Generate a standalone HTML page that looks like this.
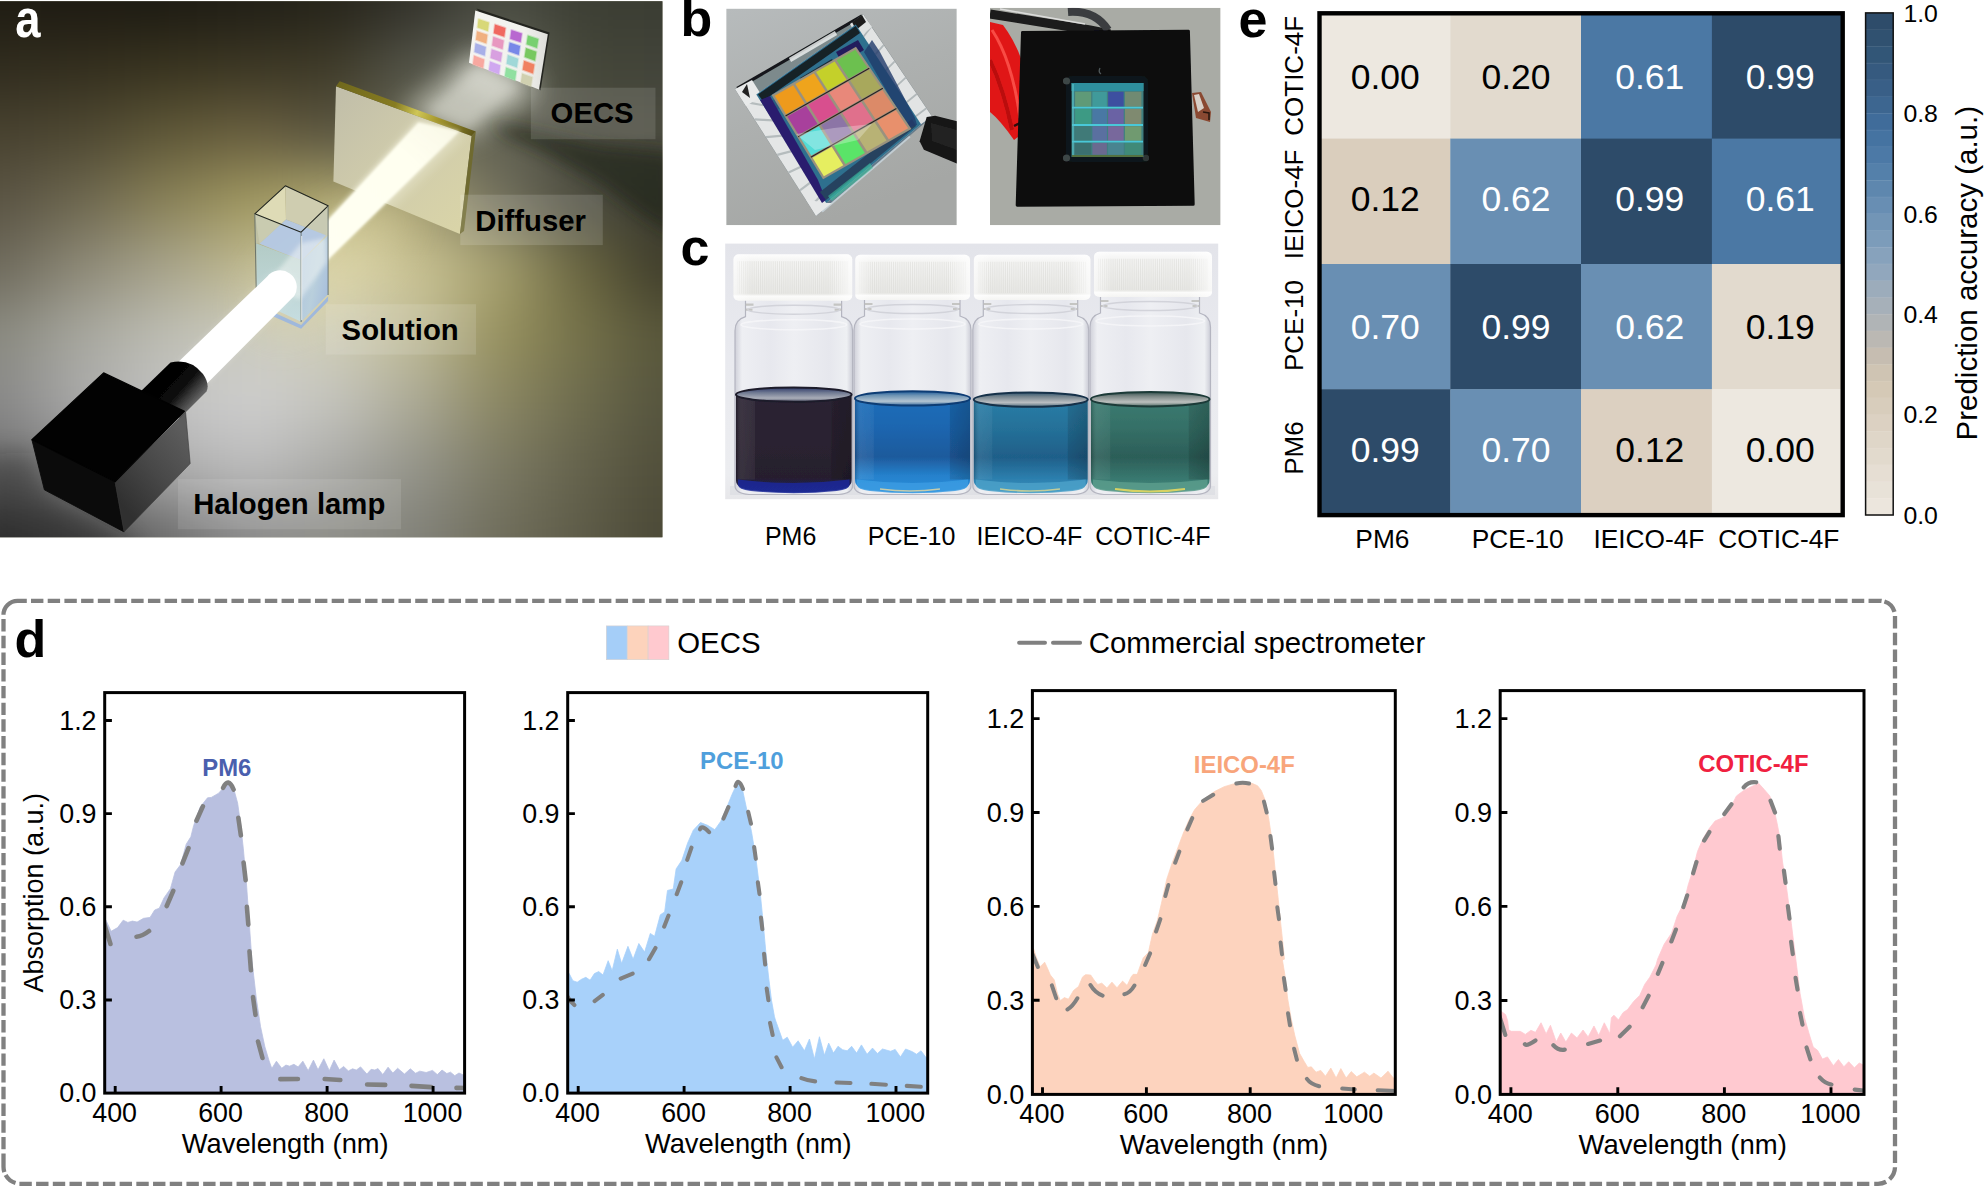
<!DOCTYPE html>
<html lang="en"><head><meta charset="utf-8"><title>Figure</title>
<style>html,body{margin:0;padding:0;background:#fff}svg{display:block}text{font-family:"Liberation Sans", Arial, Helvetica, sans-serif}</style>
</head><body>
<svg width="1984" height="1186" viewBox="0 0 1984 1186">
<rect width="1984" height="1186" fill="#fff"/>
<g id="panel-a">
<defs><clipPath id="clipa"><rect x="0" y="1.3" width="662.4" height="535.9"/></clipPath><filter id="abg" x="-20%" y="-20%" width="140%" height="140%" color-interpolation-filters="sRGB"><feGaussianBlur stdDeviation="34 28"/></filter><filter id="bl2" x="-30%" y="-30%" width="160%" height="160%"><feGaussianBlur stdDeviation="2"/></filter><filter id="bl1" x="-30%" y="-30%" width="160%" height="160%"><feGaussianBlur stdDeviation="1.1"/></filter><filter id="bl05" x="-10%" y="-10%" width="120%" height="120%"><feGaussianBlur stdDeviation="0.6"/></filter><filter id="bl3" x="-30%" y="-30%" width="160%" height="160%"><feGaussianBlur stdDeviation="3.2"/></filter><filter id="bl6" x="-40%" y="-40%" width="180%" height="180%"><feGaussianBlur stdDeviation="6"/></filter><filter id="bl8" x="-40%" y="-40%" width="180%" height="180%"><feGaussianBlur stdDeviation="8"/></filter><filter id="bl12" x="-50%" y="-50%" width="200%" height="200%"><feGaussianBlur stdDeviation="12"/></filter><filter id="bl20" x="-60%" y="-60%" width="220%" height="220%"><feGaussianBlur stdDeviation="20"/></filter></defs>
<g clip-path="url(#clipa)">
<rect x="-10" y="-10" width="690" height="560" fill="#6a6850"/>
<g filter="url(#abg)">
<rect x="-140" y="-120" width="182.5" height="154.5" fill="#1E1B12"/>
<rect x="41.5" y="-120" width="84" height="154.5" fill="#1D1A12"/>
<rect x="124.5" y="-120" width="84" height="154.5" fill="#1C1A12"/>
<rect x="207.5" y="-120" width="84" height="154.5" fill="#201E16"/>
<rect x="290.5" y="-120" width="84" height="154.5" fill="#26241A"/>
<rect x="373.5" y="-120" width="84" height="154.5" fill="#32312A"/>
<rect x="456.5" y="-120" width="84" height="154.5" fill="#4A4C42"/>
<rect x="539.5" y="-120" width="83" height="154.5" fill="#3C3E34"/>
<rect x="621.5" y="-120" width="179.5" height="154.5" fill="#3A3C32"/>
<rect x="-140" y="33.5" width="182.5" height="68" fill="#302C1E"/>
<rect x="41.5" y="33.5" width="84" height="68" fill="#332E1E"/>
<rect x="124.5" y="33.5" width="84" height="68" fill="#38331F"/>
<rect x="207.5" y="33.5" width="84" height="68" fill="#3C3724"/>
<rect x="290.5" y="33.5" width="84" height="68" fill="#3E3A28"/>
<rect x="373.5" y="33.5" width="84" height="68" fill="#54554A"/>
<rect x="456.5" y="33.5" width="84" height="68" fill="#6A6C60"/>
<rect x="539.5" y="33.5" width="83" height="68" fill="#444638"/>
<rect x="621.5" y="33.5" width="179.5" height="68" fill="#42443A"/>
<rect x="-140" y="100.5" width="182.5" height="68" fill="#484230"/>
<rect x="41.5" y="100.5" width="84" height="68" fill="#4E4832"/>
<rect x="124.5" y="100.5" width="84" height="68" fill="#5F5838"/>
<rect x="207.5" y="100.5" width="84" height="68" fill="#6A6040"/>
<rect x="290.5" y="100.5" width="84" height="68" fill="#5A5540"/>
<rect x="373.5" y="100.5" width="84" height="68" fill="#6A6A58"/>
<rect x="456.5" y="100.5" width="84" height="68" fill="#626252"/>
<rect x="539.5" y="100.5" width="83" height="68" fill="#4e4e42"/>
<rect x="621.5" y="100.5" width="179.5" height="68" fill="#4c4c40"/>
<rect x="-140" y="167.5" width="182.5" height="68" fill="#5A5444"/>
<rect x="41.5" y="167.5" width="84" height="68" fill="#6E6850"/>
<rect x="124.5" y="167.5" width="84" height="68" fill="#8A8258"/>
<rect x="207.5" y="167.5" width="84" height="68" fill="#A09860"/>
<rect x="290.5" y="167.5" width="84" height="68" fill="#B0A870"/>
<rect x="373.5" y="167.5" width="84" height="68" fill="#A8A070"/>
<rect x="456.5" y="167.5" width="84" height="68" fill="#747260"/>
<rect x="539.5" y="167.5" width="83" height="68" fill="#4a4a3e"/>
<rect x="621.5" y="167.5" width="179.5" height="68" fill="#3c3c32"/>
<rect x="-140" y="234.5" width="182.5" height="68" fill="#6E6A5C"/>
<rect x="41.5" y="234.5" width="84" height="68" fill="#8E8A78"/>
<rect x="124.5" y="234.5" width="84" height="68" fill="#A8A48C"/>
<rect x="207.5" y="234.5" width="84" height="68" fill="#C0BA90"/>
<rect x="290.5" y="234.5" width="84" height="68" fill="#D8D2A8"/>
<rect x="373.5" y="234.5" width="84" height="68" fill="#CCC596"/>
<rect x="456.5" y="234.5" width="84" height="68" fill="#A8A270"/>
<rect x="539.5" y="234.5" width="83" height="68" fill="#6A6640"/>
<rect x="621.5" y="234.5" width="179.5" height="68" fill="#3E3C2A"/>
<rect x="-140" y="301.5" width="182.5" height="68" fill="#8A8A80"/>
<rect x="41.5" y="301.5" width="84" height="68" fill="#A8A8A0"/>
<rect x="124.5" y="301.5" width="84" height="68" fill="#BEBEB4"/>
<rect x="207.5" y="301.5" width="84" height="68" fill="#CCCCC0"/>
<rect x="290.5" y="301.5" width="84" height="68" fill="#D0CEB8"/>
<rect x="373.5" y="301.5" width="84" height="68" fill="#C0BC98"/>
<rect x="456.5" y="301.5" width="84" height="68" fill="#98925F"/>
<rect x="539.5" y="301.5" width="83" height="68" fill="#75724A"/>
<rect x="621.5" y="301.5" width="179.5" height="68" fill="#58563A"/>
<rect x="-140" y="368.5" width="182.5" height="68" fill="#888888"/>
<rect x="41.5" y="368.5" width="84" height="68" fill="#ABABAB"/>
<rect x="124.5" y="368.5" width="84" height="68" fill="#C2C2C2"/>
<rect x="207.5" y="368.5" width="84" height="68" fill="#CECECE"/>
<rect x="290.5" y="368.5" width="84" height="68" fill="#C4C4BE"/>
<rect x="373.5" y="368.5" width="84" height="68" fill="#ACAA96"/>
<rect x="456.5" y="368.5" width="84" height="68" fill="#8C8864"/>
<rect x="539.5" y="368.5" width="83" height="68" fill="#6E6C4E"/>
<rect x="621.5" y="368.5" width="179.5" height="68" fill="#55543E"/>
<rect x="-140" y="435.5" width="182.5" height="68.5" fill="#6c6c6c"/>
<rect x="41.5" y="435.5" width="84" height="68.5" fill="#8a8a8a"/>
<rect x="124.5" y="435.5" width="84" height="68.5" fill="#ACACAC"/>
<rect x="207.5" y="435.5" width="84" height="68.5" fill="#BDBDBD"/>
<rect x="290.5" y="435.5" width="84" height="68.5" fill="#ABABA8"/>
<rect x="373.5" y="435.5" width="84" height="68.5" fill="#94948A"/>
<rect x="456.5" y="435.5" width="84" height="68.5" fill="#7C7A64"/>
<rect x="539.5" y="435.5" width="83" height="68.5" fill="#64624C"/>
<rect x="621.5" y="435.5" width="179.5" height="68.5" fill="#504E3A"/>
<rect x="-140" y="503" width="182.5" height="158" fill="#3a3a3a"/>
<rect x="41.5" y="503" width="84" height="158" fill="#4a4a4a"/>
<rect x="124.5" y="503" width="84" height="158" fill="#6c6c6c"/>
<rect x="207.5" y="503" width="84" height="158" fill="#8a8a8a"/>
<rect x="290.5" y="503" width="84" height="158" fill="#8E8E88"/>
<rect x="373.5" y="503" width="84" height="158" fill="#82827A"/>
<rect x="456.5" y="503" width="84" height="158" fill="#706E5C"/>
<rect x="539.5" y="503" width="83" height="158" fill="#5E5C48"/>
<rect x="621.5" y="503" width="179.5" height="158" fill="#4A4836"/>
</g>
<polygon points="-20,455 34,452 48,494 124,536 150,570 -20,570" fill="#101010" opacity="0.3" filter="url(#bl12)"/>
<polygon points="486,120 520,127 600,145 675,152 675,236 640,214 600,184 545,153 505,135" fill="#1e2016" opacity="0.6" filter="url(#bl8)"/>
<polygon points="400,112 468,140 543,92 470,54" fill="#e6e8dc" opacity="0.52" filter="url(#bl12)"/>
<polygon points="455,85 500,100 540,80 480,50" fill="#f4f4ec" opacity="0.36" filter="url(#bl12)"/>
<polygon points="425,112 468,130 520,86 478,64" fill="#f2f2ea" opacity="0.35" filter="url(#bl6)"/>
<ellipse cx="330" cy="262" rx="95" ry="38" fill="#e6dfb0" opacity="0.35" filter="url(#bl20)" transform="rotate(-40 330 262)"/>
<linearGradient id="plate" gradientUnits="userSpaceOnUse" x1="336" y1="100" x2="462" y2="225"><stop offset="0" stop-color="#c2bfa9"/><stop offset="0.45" stop-color="#cfcbab"/><stop offset="1" stop-color="#d9d4a8"/></linearGradient>
<polygon points="336,86.3 471.6,135.9 459.9,234 333.4,181.4" fill="url(#plate)"/>
<linearGradient id="ptop" gradientUnits="userSpaceOnUse" x1="338" y1="84" x2="474" y2="134"><stop offset="0" stop-color="#70681c"/><stop offset="0.42" stop-color="#877c22"/><stop offset="0.58" stop-color="#cfc656"/><stop offset="0.72" stop-color="#a89a30"/><stop offset="1" stop-color="#5e5618"/></linearGradient>
<polygon points="336,86.3 339.7,81.2 475.8,131.6 471.6,135.9" fill="url(#ptop)"/>
<polygon points="471.6,135.9 475.8,131.6 464,231 459.9,234" fill="#6f6a30"/>
<clipPath id="clipplate"><polygon points="336,86.3 471.6,135.9 459.9,234 333.4,181.4"/></clipPath>
<g clip-path="url(#clipplate)"><polygon points="356,192 420,118 466,134 366,232" fill="#fffef0" opacity="0.3" filter="url(#bl6)"/></g>
<polygon points="326,219 417.4,120.7 461,130.6 326,262" fill="#fffff0" opacity="0.4" filter="url(#bl2)"/>
<linearGradient id="beam2" gradientUnits="userSpaceOnUse" x1="330" y1="240" x2="445" y2="128"><stop offset="0" stop-color="#fffff2"/><stop offset="0.7" stop-color="#fffff0"/><stop offset="1" stop-color="#fffff0" stop-opacity="0.75"/></linearGradient>
<polygon points="327,221 418.5,122.5 459,131.5 327,260.5" fill="url(#beam2)" filter="url(#bl1)"/>
<polygon points="262,307 301.1,324.9 328.1,296.4 328.1,300.9 301.1,328.7 262,311.5" fill="#9fb8dc"/>
<polygon points="254.8,213.8 285.3,185.8 286,219.5 259.6,243.8" fill="#dedbb6"/>
<polygon points="285.3,185.8 328.1,205.8 326,235.3 286,219.5" fill="#cfcdb0"/>
<polygon points="254.8,213.8 301.1,232.2 301.8,260.6 259.6,243.8 255.3,243" fill="#c3c7ae" opacity="0.78"/>
<polygon points="301.1,232.2 328.1,205.8 328.1,236 301.8,260.6" fill="#c6c9b4" opacity="0.8"/>
<polygon points="286,219.5 326,235.3 301.8,260.6 259.6,243.8" fill="#b4c9e6" opacity="0.92"/>
<linearGradient id="liqL" x1="0" x2="0" y1="0" y2="1"><stop offset="0" stop-color="#b3cbc6"/><stop offset="1" stop-color="#c6dde0"/></linearGradient>
<polygon points="256.2,243.2 301.8,260.6 301.1,321.7 256.6,301" fill="url(#liqL)"/>
<linearGradient id="liqR" x1="0" x2="1" y1="0" y2="0.6"><stop offset="0" stop-color="#aec4df"/><stop offset="0.6" stop-color="#b9cfdc"/><stop offset="1" stop-color="#a9c0dc"/></linearGradient>
<polygon points="301.8,260.6 328.1,235.6 328.1,294.3 301.1,321.7" fill="url(#liqR)"/>
<polygon points="268,282 301,243 326,238 327,262 300,300" fill="#f4f8f6" opacity="0.5" filter="url(#bl2)"/>
<polygon points="285.3,185.8 328.1,205.8 301.1,232.2 254.8,213.8" fill="none" stroke="#20241e" stroke-width="1.1" stroke-linejoin="round"/>
<path d="M254.8,213.8L256.4,300M301.1,232.2L301.1,322M328.1,205.8L328.1,295" stroke="#5f6a66" stroke-width="1" fill="none" opacity="0.85"/>
<path d="M301.6,236L301.6,320" stroke="#eef3f2" stroke-width="1.3" opacity="0.7"/>
<path d="M177.5,362.8L267,276.7A16.7,16.7 0 0 1 294.2,296L207,383.5Z" fill="#ffffff" opacity="0.18" filter="url(#bl3)"/>
<path d="M177.5,362.8L267,276.7A16.7,16.7 0 0 1 294.2,296L207,383.5Z" fill="#ffffff" filter="url(#bl05)"/>
<linearGradient id="barrel" gradientUnits="userSpaceOnUse" x1="160" y1="372" x2="196" y2="404"><stop offset="0" stop-color="#000"/><stop offset="0.55" stop-color="#0a0a0a"/><stop offset="0.85" stop-color="#4a4a4a"/><stop offset="1" stop-color="#6a6a6a"/></linearGradient>
<path d="M137,395L170.5,362.6Q190,358 203,374Q210,384 206.5,391.5L180,418Z" fill="url(#barrel)" filter="url(#bl05)"/>
<polygon points="31.9,439.7 115,481.8 124.1,531.9 44.4,489.8" fill="#0b0b0b" stroke="#0b0b0b" stroke-width="0.9" stroke-linejoin="round"/>
<linearGradient id="lampR" gradientUnits="userSpaceOnUse" x1="118" y1="500" x2="190" y2="440"><stop offset="0" stop-color="#303030"/><stop offset="0.5" stop-color="#484848"/><stop offset="1" stop-color="#5c5c5c"/></linearGradient>
<polygon points="115,481.8 185.6,412.3 190.2,463.6 124.1,531.9" fill="url(#lampR)" stroke="#3a3a3a" stroke-width="0.6" stroke-linejoin="round"/>
<polygon points="103.6,372.9 184.5,411.2 115,481.8 31.9,439.7" fill="#020202" stroke="#020202" stroke-width="1.2" stroke-linejoin="round"/>
<polygon points="476.5,8.6 549.6,32.6 540.5,90.6 538,88" fill="#23241f"/>
<linearGradient id="chip" x1="0" x2="1" y1="0" y2="0"><stop offset="0" stop-color="#f5f5f1"/><stop offset="0.7" stop-color="#f1f1ed"/><stop offset="1" stop-color="#dededa"/></linearGradient>
<polygon points="475.3,10.5 547.8,34.2 539,89.4 469,62.8" fill="url(#chip)" filter="url(#bl05)"/>
<g filter="url(#bl05)">
<polygon points="478.49,18.91 489.03,22.43 487.9,31.15 477.43,27.57" fill="#D8D878" stroke="#D8D878" stroke-opacity="0.35" stroke-width="2" stroke-linejoin="round"/>
<polygon points="494.94,24.4 505.48,27.92 504.26,36.76 493.79,33.17" fill="#F06860" stroke="#F06860" stroke-opacity="0.35" stroke-width="2" stroke-linejoin="round"/>
<polygon points="511.4,29.9 521.93,33.41 520.62,42.36 510.15,38.77" fill="#B868D0" stroke="#B868D0" stroke-opacity="0.35" stroke-width="2" stroke-linejoin="round"/>
<polygon points="527.85,35.39 538.39,38.91 536.98,47.96 526.5,44.37" fill="#78D070" stroke="#78D070" stroke-opacity="0.35" stroke-width="2" stroke-linejoin="round"/>
<polygon points="476.99,31.13 487.44,34.75 486.32,43.48 475.93,39.79" fill="#F0B080" stroke="#F0B080" stroke-opacity="0.35" stroke-width="2" stroke-linejoin="round"/>
<polygon points="493.31,36.78 503.76,40.4 502.54,49.23 492.15,45.55" fill="#E898C0" stroke="#E898C0" stroke-opacity="0.35" stroke-width="2" stroke-linejoin="round"/>
<polygon points="509.63,42.43 520.08,46.04 518.77,54.99 508.38,51.3" fill="#7888E8" stroke="#7888E8" stroke-opacity="0.35" stroke-width="2" stroke-linejoin="round"/>
<polygon points="525.95,48.07 536.4,51.69 535,60.74 524.61,57.06" fill="#78C860" stroke="#78C860" stroke-opacity="0.35" stroke-width="2" stroke-linejoin="round"/>
<polygon points="475.49,43.36 485.86,47.07 484.73,55.8 474.43,52.01" fill="#A8B0E8" stroke="#A8B0E8" stroke-opacity="0.35" stroke-width="2" stroke-linejoin="round"/>
<polygon points="491.68,49.16 502.04,52.87 500.83,61.71 490.52,57.92" fill="#D8A0E0" stroke="#D8A0E0" stroke-opacity="0.35" stroke-width="2" stroke-linejoin="round"/>
<polygon points="507.86,54.96 518.23,58.67 516.92,67.62 506.61,63.83" fill="#A0D8D8" stroke="#A0D8D8" stroke-opacity="0.35" stroke-width="2" stroke-linejoin="round"/>
<polygon points="524.05,60.76 534.42,64.47 533.01,73.53 522.71,69.74" fill="#F08060" stroke="#F08060" stroke-opacity="0.35" stroke-width="2" stroke-linejoin="round"/>
<polygon points="473.99,55.58 484.27,59.39 483.15,68.12 472.93,64.24" fill="#F8A8A0" stroke="#F8A8A0" stroke-opacity="0.35" stroke-width="2" stroke-linejoin="round"/>
<polygon points="490.04,61.54 500.32,65.35 499.11,74.18 488.89,70.3" fill="#D0A8F0" stroke="#D0A8F0" stroke-opacity="0.35" stroke-width="2" stroke-linejoin="round"/>
<polygon points="506.1,67.49 516.38,71.3 515.07,80.25 504.85,76.37" fill="#90E0A0" stroke="#90E0A0" stroke-opacity="0.35" stroke-width="2" stroke-linejoin="round"/>
<polygon points="522.15,73.45 532.43,77.26 531.03,86.31 520.81,82.43" fill="#D0D0B0" stroke="#D0D0B0" stroke-opacity="0.35" stroke-width="2" stroke-linejoin="round"/>
</g>
<rect x="530.9" y="87.7" width="124.6" height="51.5" fill="#fff" opacity="0.12"/>
<text x="550.6" y="123.4" font-size="29.3" font-weight="bold" fill="#000">OECS</text>
<rect x="460.3" y="194.7" width="142.5" height="50.4" fill="#fff" opacity="0.14"/>
<text x="475.3" y="230.6" font-size="29.3" font-weight="bold" fill="#000">Diffuser</text>
<rect x="325.7" y="304.2" width="150.3" height="50.4" fill="#fff" opacity="0.12"/>
<text x="341.6" y="339.6" font-size="29.3" font-weight="bold" fill="#000">Solution</text>
<rect x="177.9" y="479.1" width="223.1" height="50.2" fill="#fff" opacity="0.1"/>
<text x="193.2" y="513.8" font-size="29.3" font-weight="bold" fill="#000">Halogen lamp</text>
<text transform="translate(15.2,36.6) scale(0.875,1.04)" font-size="52" font-weight="bold" fill="#fff">a</text>
</g>
</g>
<g id="panel-b">
<text x="680.6" y="36.4" font-size="52" font-weight="bold" fill="#000">b</text>
<defs><filter id="softb" x="-2%" y="-2%" width="104%" height="104%"><feGaussianBlur stdDeviation="0.7"/></filter><clipPath id="clipb1"><rect x="726.2" y="8.6" width="230.6" height="216.6"/></clipPath><clipPath id="clipb2"><rect x="990" y="7.8" width="230.6" height="217.4"/></clipPath></defs>
<g clip-path="url(#clipb1)"><g filter="url(#softb)"><linearGradient id="b1bg" x1="0" x2="0.4" y1="0" y2="1"><stop offset="0" stop-color="#b7bbbc"/><stop offset="0.5" stop-color="#adb0af"/><stop offset="1" stop-color="#a5a7a5"/></linearGradient>
<rect x="726.2" y="8.6" width="230.6" height="216.6" fill="url(#b1bg)"/>
<linearGradient id="glassb" x1="0" x2="1" y1="0" y2="1"><stop offset="0" stop-color="#8f9a9c"/><stop offset="0.5" stop-color="#d8dcdd"/><stop offset="1" stop-color="#eceeee"/></linearGradient>
<polygon points="863,14.4 931.9,116.5 816.1,215.7 735.2,88.9" fill="#cfd3d4" stroke="#8c9496" stroke-width="1"/>
<polygon points="735.2,88.9 816.1,215.7 826.2,202.9 756.3,94.4" fill="#e4e6e6"/>
<path d="M743.29,101.58L763.29,105.25" stroke="#aab2b4" stroke-width="2.2" opacity="0.8"/>
<path d="M754.62,119.33L773.08,120.44" stroke="#aab2b4" stroke-width="2.2" opacity="0.8"/>
<path d="M765.94,137.08L782.86,135.63" stroke="#aab2b4" stroke-width="2.2" opacity="0.8"/>
<path d="M777.27,154.84L792.65,150.82" stroke="#aab2b4" stroke-width="2.2" opacity="0.8"/>
<path d="M788.59,172.59L802.43,166.01" stroke="#aab2b4" stroke-width="2.2" opacity="0.8"/>
<path d="M799.92,190.34L812.22,181.2" stroke="#aab2b4" stroke-width="2.2" opacity="0.8"/>
<path d="M810.44,206.82L821.31,195.31" stroke="#aab2b4" stroke-width="2.2" opacity="0.8"/>
<polygon points="863,14.4 931.9,116.5 921,124.2 855.8,24.5" fill="#e2e4e4"/>
<path d="M871.27,26.65L863.62,36.46" stroke="#a9b1b3" stroke-width="1.8" opacity="0.85"/>
<path d="M883.67,45.03L875.36,54.41" stroke="#a9b1b3" stroke-width="1.8" opacity="0.85"/>
<path d="M894.69,61.37L885.79,70.36" stroke="#a9b1b3" stroke-width="1.8" opacity="0.85"/>
<path d="M905.72,77.7L896.22,86.31" stroke="#a9b1b3" stroke-width="1.8" opacity="0.85"/>
<path d="M916.74,94.04L906.66,102.27" stroke="#a9b1b3" stroke-width="1.8" opacity="0.85"/>
<path d="M926.39,108.33L915.78,116.22" stroke="#a9b1b3" stroke-width="1.8" opacity="0.85"/>
<polygon points="735.2,88.9 863,14.4 855.8,24.5 756.3,94.4" fill="#7d8a8c"/>
<path d="M737.2,88.4L862,15.9" stroke="#15181a" stroke-width="3.2"/>
<path d="M790,60L836,33" stroke="#e9ecec" stroke-width="4.5" opacity="0.85"/>
<polygon points="931.9,116.5 816.1,215.7 826.2,202.9 921,124.2" fill="#62798a"/>
<path d="M822.1,211.7L909.9,136.5" stroke="#c9d6de" stroke-width="1.8" opacity="0.8"/>
<polygon points="816.1,215.7 806,199.5 826.2,202.9 832,203" fill="#e6e8e8"/>
<polygon points="735.2,88.9 752,80 762,96 746,106" fill="#e8eaea"/><polygon points="742,92 747,84 750,98" fill="#222"/>
<polygon points="863,14.4 872,27 858,38 850,24" fill="#dfe2e2"/><polygon points="852,22 862,15 866,22 856,30" fill="#1b1d1f"/>
<polygon points="855.8,24.5 921,124.2 826.2,202.9 756.3,94.4" fill="#2f6f8e"/>
<polygon points="758,94.4 855.8,26 860,33 763,101" fill="#152028"/>
<polygon points="766,104 790,90 796,99 772,113" fill="#2a5f80"/><polygon points="800,78 832,59 836,66 804,85" fill="#1a2a3a"/><polygon points="836,52 858,40 864,50 842,63" fill="#241c5c"/>
<polygon points="760,100 770,96 818,180 826,200 822,203" fill="#2a1f6e"/>
<polygon points="826,200 916,126 912,119 820,192" fill="#27435f"/>
<polygon points="828,196 870,163 873,168 832,201" fill="#3ec8a0" opacity="0.55"/>
<polygon points="872,40 880,52 915,118 917,125 908,128 864,52" fill="#1f3a6a" opacity="0.8"/>
<polygon points="771.57,94.95 855.98,46.72 911.41,128.91 823.04,179.32" fill="#9a927e"/>
<polygon points="774.63,95.76 793.19,85.16 804.71,103.57 785.96,114.28" fill="#EE9A1E"/>
<polygon points="795.35,83.93 813.9,73.33 825.63,91.62 806.88,102.33" fill="#EFA41C"/>
<polygon points="816.06,72.1 834.62,61.49 846.56,79.67 827.81,90.38" fill="#C4D02A"/>
<polygon points="836.77,60.26 855.33,49.66 867.48,67.72 848.73,78.43" fill="#6CC050"/>
<polygon points="787.27,116.43 806.04,105.71 817.56,124.12 798.59,134.95" fill="#A8409C"/>
<polygon points="808.22,104.46 826.99,93.75 838.72,112.04 819.76,122.87" fill="#D8508E"/>
<polygon points="829.17,92.5 847.94,81.78 859.88,99.96 840.92,110.79" fill="#E8887A"/>
<polygon points="850.12,80.54 868.89,69.82 881.04,87.88 862.08,98.7" fill="#A8A85C"/>
<polygon points="799.91,137.1 818.89,126.26 830.41,144.67 811.23,155.61" fill="#52DCD6"/>
<polygon points="821.1,125 840.08,114.17 851.81,132.46 832.63,143.4" fill="#8C74A6"/>
<polygon points="842.28,112.91 861.27,102.07 873.21,120.25 854.03,131.19" fill="#E0708C"/>
<polygon points="863.47,100.81 882.45,89.98 894.61,108.04 875.43,118.98" fill="#DC8A68"/>
<polygon points="812.55,157.76 831.74,146.81 843.26,165.22 823.87,176.28" fill="#E6EE60"/>
<polygon points="833.97,145.54 853.17,134.58 864.89,152.88 845.51,163.94" fill="#5AE468"/>
<polygon points="855.4,133.31 874.59,122.36 886.53,140.54 867.14,151.6" fill="#B8B274"/>
<polygon points="876.82,121.09 896.02,110.13 908.17,128.19 888.78,139.25" fill="#E8906C"/>
<path d="M785.52,115.97L869.28,68.15" stroke="#2a2220" stroke-width="1.2"/>
<path d="M798.15,136.65L882.85,88.3" stroke="#2a2220" stroke-width="1.2"/>
<path d="M810.77,157.32L896.42,108.45" stroke="#2a2220" stroke-width="1.2"/>
<polygon points="796,134 834,128 872,124 858,140 815,150" fill="#fff" opacity="0.28"/>
<polygon points="926.7,117.1 935.2,115.7 958,121.4 958,163.9 923.9,149.7 919.6,141.2" fill="#141414"/><polygon points="931,123 957,130 957,150 932,141" fill="#242424"/>
</g></g>
<g clip-path="url(#clipb2)"><g filter="url(#softb)"><rect x="990" y="7.8" width="230.6" height="217.4" fill="#a9aba5"/>
<path d="M990,14 L1040,22 L1090,30 L1110,34" stroke="#1a1a1a" stroke-width="9" fill="none"/>
<path d="M1068,12 Q1095,10 1108,30" stroke="#3a3d40" stroke-width="8" fill="none"/>
<path d="M1000,9 L1085,24" stroke="#e8e8e8" stroke-width="1.4" fill="none" opacity="0.8"/>
<path d="M990,22 L1003,25 Q1022,50 1030,90 L1030,128 L1014,140 Q1000,120 990,112 Z" fill="#e01818"/>
<path d="M992,30 Q1012,60 1020,118" stroke="#ff5a50" stroke-width="3" fill="none" opacity="0.8"/>
<path d="M990,60 Q1004,90 1012,130" stroke="#b00c0c" stroke-width="4" fill="none" opacity="0.8"/>
<path d="M1014,126l12,-6" stroke="#2a0a0a" stroke-width="2.5"/>
<polygon points="1192,93 1201,92 1211,112 1210,122 1196,118" fill="#8a4a32"/><polygon points="1194,95 1199,94 1204,108 1198,112" fill="#d8d0c8"/><path d="M1203,112l6,1v7" stroke="#2a1810" stroke-width="1.6" fill="none"/>
<polygon points="1022.5,32.6 1188.4,31.2 1193.2,204.2 1017.2,205.2" fill="#0c0c0d" stroke="#0c0c0d" stroke-width="3" stroke-linejoin="round"/>
<path d="M1066,82 q0,-6 6,-6 h70 q6,0 6,6 v74 q0,6 -6,6 h-70 q-6,0 -6,-6 z" fill="#10181a"/>
<circle cx="1066.5" cy="81" r="3.6" fill="#3e4646"/><circle cx="1066.5" cy="158" r="3.6" fill="#3e4646"/><circle cx="1146" cy="158" r="3.2" fill="#2e3636"/>
<rect x="1071.5" y="83" width="72" height="74" fill="#3f7f80"/>
<rect x="1071.5" y="83" width="72" height="8" fill="#2d8f9e"/>
<rect x="1075.1" y="91.7" width="16.1" height="15.1" fill="#5f9a78"/>
<rect x="1092.4" y="91.7" width="14.5" height="15.1" fill="#3f9a9a"/>
<rect x="1108.1" y="91.7" width="15.6" height="15.1" fill="#3c50a0"/>
<rect x="1124.9" y="91.7" width="16.5" height="15.1" fill="#6f8a72"/>
<rect x="1075.1" y="108.8" width="16.1" height="15.4" fill="#3d9a84"/>
<rect x="1092.4" y="108.8" width="14.5" height="15.4" fill="#4a78a4"/>
<rect x="1108.1" y="108.8" width="15.6" height="15.4" fill="#6a62a4"/>
<rect x="1124.9" y="108.8" width="16.5" height="15.4" fill="#7f8a70"/>
<rect x="1075.1" y="126.2" width="16.1" height="14.6" fill="#3f7a78"/>
<rect x="1092.4" y="126.2" width="14.5" height="14.6" fill="#5a70a0"/>
<rect x="1108.1" y="126.2" width="15.6" height="14.6" fill="#78689c"/>
<rect x="1124.9" y="126.2" width="16.5" height="14.6" fill="#6f9a70"/>
<rect x="1075.1" y="142.8" width="16.1" height="11.9" fill="#3a6f70"/>
<rect x="1092.4" y="142.8" width="14.5" height="11.9" fill="#6a6a90"/>
<rect x="1108.1" y="142.8" width="15.6" height="11.9" fill="#4a8490"/>
<rect x="1124.9" y="142.8" width="16.5" height="11.9" fill="#3f8a78"/>
<path d="M1072,107.6H1143" stroke="#49c8d8" stroke-width="1.8"/>
<path d="M1072,125H1143" stroke="#49c8d8" stroke-width="1.8"/>
<path d="M1072,141.6H1143" stroke="#49c8d8" stroke-width="1.8"/>
<path d="M1073,84V156" stroke="#58c0c8" stroke-width="1.6" opacity="0.8"/><path d="M1072,156H1143" stroke="#56703a" stroke-width="2" opacity="0.9"/>
<path d="M1100,68q-2,4 1,6" stroke="#50585a" stroke-width="1.3" fill="none"/>
</g></g>
</g>
<g id="panel-c">
<text x="680.6" y="264.8" font-size="52" font-weight="bold" fill="#000">c</text>
<defs><filter id="soft" x="-2%" y="-2%" width="104%" height="104%"><feGaussianBlur stdDeviation="0.75"/></filter><pattern id="ribs" width="1.9" height="10" patternUnits="userSpaceOnUse"><rect width="0.8" height="10" fill="#d4d4d0"/></pattern><linearGradient id="cbg" x1="0" x2="0" y1="0" y2="1"><stop offset="0" stop-color="#e3e4ea"/><stop offset="0.45" stop-color="#e9eaef"/><stop offset="0.9" stop-color="#ecedf0"/><stop offset="1" stop-color="#e7e7ea"/></linearGradient><clipPath id="clipc"><rect x="723" y="241.5" width="497" height="260"/></clipPath></defs>
<g clip-path="url(#clipc)"><g filter="url(#soft)">
<rect x="725.2" y="243.6" width="493" height="255.6" fill="url(#cbg)"/>
<rect x="730" y="486" width="485" height="9" fill="#dcdde2" opacity="0.7"/>
<path d="M745.5,298.7V316.7Q735,319.7 735,330.7V485.5Q735,493.5 749,494.5H838.6Q852.6,493.5 852.6,485.5V330.7Q852.6,319.7 841.6,316.7V298.7Z" fill="url(#glass1)" stroke="#b4b5c0" stroke-width="1.2"/>
<linearGradient id="glass1" x1="0" x2="1" y1="0" y2="0"><stop offset="0" stop-color="#cfd0d9"/><stop offset="0.06" stop-color="#eeeff3"/><stop offset="0.3" stop-color="#e7e8ee"/><stop offset="0.5" stop-color="#eeeff3"/><stop offset="0.8" stop-color="#e6e7ed"/><stop offset="0.95" stop-color="#eef0f3"/><stop offset="1" stop-color="#cbccd6"/></linearGradient>
<path d="M745.5,304.7h8M745.5,309.7h7M841.6,304.7h-8M841.6,309.7h-7" stroke="#bcbcb8" stroke-width="2.2" opacity="0.8"/>
<ellipse cx="793.8" cy="309.7" rx="46.05" ry="4.5" fill="none" stroke="#d2d3da" stroke-width="1.4"/>
<ellipse cx="793.8" cy="324.7" rx="52.8" ry="5" fill="none" stroke="#f6f6f9" stroke-width="1.6" opacity="0.8"/>
<linearGradient id="liq1" x1="0" x2="0" y1="0" y2="1"><stop offset="0" stop-color="#2b2434"/><stop offset="0.5" stop-color="#2a2230"/><stop offset="0.85" stop-color="#261f2e"/><stop offset="1" stop-color="#1b2170"/></linearGradient>
<path d="M736,394.6V480.5Q736,488.5 751,490Q793.8,495 836.6,490Q851.6,488.5 851.6,480.5V394.6Z" fill="url(#liq1)"/>
<linearGradient id="lsh1" x1="0" x2="1" y1="0" y2="0"><stop offset="0" stop-color="#000" stop-opacity="0.18"/><stop offset="0.05" stop-color="#fff" stop-opacity="0.08"/><stop offset="0.16" stop-color="#fff" stop-opacity="0.05"/><stop offset="0.17" stop-color="#000" stop-opacity="0"/><stop offset="0.82" stop-color="#000" stop-opacity="0"/><stop offset="0.83" stop-color="#000" stop-opacity="0.12"/><stop offset="1" stop-color="#000" stop-opacity="0.22"/></linearGradient>
<rect x="736" y="394.6" width="115.6" height="84.9" fill="url(#lsh1)"/>
<path d="M738,479.5Q793.8,486.5 849.6,479.5V484.5Q849.6,489.5 836.6,491Q793.8,495.5 751,491Q738,489.5 738,484.5Z" fill="#1c2a9a" opacity="0.85"/>
<linearGradient id="surf1" x1="0" x2="0" y1="0" y2="1"><stop offset="0" stop-color="#2c3868"/><stop offset="0.35" stop-color="#6d7790"/><stop offset="0.75" stop-color="#a9adb8"/><stop offset="1" stop-color="#54586c"/></linearGradient>
<ellipse cx="793.8" cy="394.6" rx="57.8" ry="7.2" fill="url(#surf1)" stroke="#1d1a2a" stroke-width="2"/>
<linearGradient id="cap1" x1="0" x2="0" y1="0" y2="1"><stop offset="0" stop-color="#fdfdfd"/><stop offset="0.12" stop-color="#f6f6f5"/><stop offset="0.5" stop-color="#efefed"/><stop offset="0.86" stop-color="#e9e9e6"/><stop offset="0.9" stop-color="#fbfbfa"/><stop offset="1" stop-color="#f4f4f2"/></linearGradient>
<rect x="733.5" y="254.2" width="118.7" height="46.5" rx="5.5" ry="5" fill="url(#cap1)"/>
<rect x="737.5" y="261.2" width="110.7" height="32.5" fill="url(#ribs)" opacity="0.55"/>
<linearGradient id="capsh1" x1="0" x2="1" y1="0" y2="0"><stop offset="0" stop-color="#fff" stop-opacity="0.6"/><stop offset="0.15" stop-color="#fff" stop-opacity="0"/><stop offset="0.8" stop-color="#fff" stop-opacity="0"/><stop offset="1" stop-color="#fff" stop-opacity="0.7"/></linearGradient>
<rect x="733.5" y="254.2" width="118.7" height="46.5" rx="5.5" ry="5" fill="url(#capsh1)"/>
<path d="M864.5,298V316Q854,319 854,330V485.5Q854,493.5 868,494.5H957Q971,493.5 971,485.5V330Q971,319 960,316V298Z" fill="url(#glass2)" stroke="#b4b5c0" stroke-width="1.2"/>
<linearGradient id="glass2" x1="0" x2="1" y1="0" y2="0"><stop offset="0" stop-color="#cfd0d9"/><stop offset="0.06" stop-color="#eeeff3"/><stop offset="0.3" stop-color="#e7e8ee"/><stop offset="0.5" stop-color="#eeeff3"/><stop offset="0.8" stop-color="#e6e7ed"/><stop offset="0.95" stop-color="#eef0f3"/><stop offset="1" stop-color="#cbccd6"/></linearGradient>
<path d="M864.5,304h8M864.5,309h7M960,304h-8M960,309h-7" stroke="#bcbcb8" stroke-width="2.2" opacity="0.8"/>
<ellipse cx="912.5" cy="309" rx="45.75" ry="4.5" fill="none" stroke="#d2d3da" stroke-width="1.4"/>
<ellipse cx="912.5" cy="324" rx="52.5" ry="5" fill="none" stroke="#f6f6f9" stroke-width="1.6" opacity="0.8"/>
<linearGradient id="liq2" x1="0" x2="0" y1="0" y2="1"><stop offset="0" stop-color="#1b6db9"/><stop offset="0.3" stop-color="#1c66b0"/><stop offset="0.62" stop-color="#1e5a9c"/><stop offset="0.82" stop-color="#2581cc"/><stop offset="1" stop-color="#2b8edb"/></linearGradient>
<path d="M855,398.4V480.5Q855,488.5 870,490Q912.5,495 955,490Q970,488.5 970,480.5V398.4Z" fill="url(#liq2)"/>
<linearGradient id="lsh2" x1="0" x2="1" y1="0" y2="0"><stop offset="0" stop-color="#000" stop-opacity="0.18"/><stop offset="0.05" stop-color="#fff" stop-opacity="0.08"/><stop offset="0.16" stop-color="#fff" stop-opacity="0.05"/><stop offset="0.17" stop-color="#000" stop-opacity="0"/><stop offset="0.82" stop-color="#000" stop-opacity="0"/><stop offset="0.83" stop-color="#000" stop-opacity="0.12"/><stop offset="1" stop-color="#000" stop-opacity="0.22"/></linearGradient>
<rect x="855" y="398.4" width="115" height="81.1" fill="url(#lsh2)"/>
<path d="M857,479.5Q912.5,486.5 968,479.5V484.5Q968,489.5 955,491Q912.5,495.5 870,491Q857,489.5 857,484.5Z" fill="#3a9be2" opacity="0.85"/>
<linearGradient id="surf2" x1="0" x2="0" y1="0" y2="1"><stop offset="0" stop-color="#1f5c9a"/><stop offset="0.3" stop-color="#6e94b4"/><stop offset="0.7" stop-color="#b3c4d2"/><stop offset="1" stop-color="#3d6f9f"/></linearGradient>
<ellipse cx="912.5" cy="398.4" rx="57.5" ry="7.2" fill="url(#surf2)" stroke="#0f3c74" stroke-width="2"/>
<linearGradient id="cap2" x1="0" x2="0" y1="0" y2="1"><stop offset="0" stop-color="#fdfdfd"/><stop offset="0.12" stop-color="#f6f6f5"/><stop offset="0.5" stop-color="#efefed"/><stop offset="0.86" stop-color="#e9e9e6"/><stop offset="0.9" stop-color="#fbfbfa"/><stop offset="1" stop-color="#f4f4f2"/></linearGradient>
<rect x="855.3" y="254.7" width="114.7" height="45.3" rx="5.5" ry="5" fill="url(#cap2)"/>
<rect x="859.3" y="261.7" width="106.7" height="31.3" fill="url(#ribs)" opacity="0.55"/>
<linearGradient id="capsh2" x1="0" x2="1" y1="0" y2="0"><stop offset="0" stop-color="#fff" stop-opacity="0.6"/><stop offset="0.15" stop-color="#fff" stop-opacity="0"/><stop offset="0.8" stop-color="#fff" stop-opacity="0"/><stop offset="1" stop-color="#fff" stop-opacity="0.7"/></linearGradient>
<rect x="855.3" y="254.7" width="114.7" height="45.3" rx="5.5" ry="5" fill="url(#capsh2)"/>
<path d="M983.3,298V316Q972.8,319 972.8,330V485.5Q972.8,493.5 986.8,494.5H1074.7Q1088.7,493.5 1088.7,485.5V330Q1088.7,319 1077.7,316V298Z" fill="url(#glass3)" stroke="#b4b5c0" stroke-width="1.2"/>
<linearGradient id="glass3" x1="0" x2="1" y1="0" y2="0"><stop offset="0" stop-color="#cfd0d9"/><stop offset="0.06" stop-color="#eeeff3"/><stop offset="0.3" stop-color="#e7e8ee"/><stop offset="0.5" stop-color="#eeeff3"/><stop offset="0.8" stop-color="#e6e7ed"/><stop offset="0.95" stop-color="#eef0f3"/><stop offset="1" stop-color="#cbccd6"/></linearGradient>
<path d="M983.3,304h8M983.3,309h7M1077.7,304h-8M1077.7,309h-7" stroke="#bcbcb8" stroke-width="2.2" opacity="0.8"/>
<ellipse cx="1030.75" cy="309" rx="45.2" ry="4.5" fill="none" stroke="#d2d3da" stroke-width="1.4"/>
<ellipse cx="1030.75" cy="324" rx="51.95" ry="5" fill="none" stroke="#f6f6f9" stroke-width="1.6" opacity="0.8"/>
<linearGradient id="liq3" x1="0" x2="0" y1="0" y2="1"><stop offset="0" stop-color="#2a7da7"/><stop offset="0.3" stop-color="#257199"/><stop offset="0.62" stop-color="#1f5f89"/><stop offset="0.85" stop-color="#2c7fae"/><stop offset="1" stop-color="#3a93bf"/></linearGradient>
<path d="M973.8,399.6V480.5Q973.8,488.5 988.8,490Q1030.75,495 1072.7,490Q1087.7,488.5 1087.7,480.5V399.6Z" fill="url(#liq3)"/>
<linearGradient id="lsh3" x1="0" x2="1" y1="0" y2="0"><stop offset="0" stop-color="#000" stop-opacity="0.18"/><stop offset="0.05" stop-color="#fff" stop-opacity="0.08"/><stop offset="0.16" stop-color="#fff" stop-opacity="0.05"/><stop offset="0.17" stop-color="#000" stop-opacity="0"/><stop offset="0.82" stop-color="#000" stop-opacity="0"/><stop offset="0.83" stop-color="#000" stop-opacity="0.12"/><stop offset="1" stop-color="#000" stop-opacity="0.22"/></linearGradient>
<rect x="973.8" y="399.6" width="113.9" height="79.9" fill="url(#lsh3)"/>
<path d="M975.8,479.5Q1030.75,486.5 1085.7,479.5V484.5Q1085.7,489.5 1072.7,491Q1030.75,495.5 988.8,491Q975.8,489.5 975.8,484.5Z" fill="#4aa0c8" opacity="0.85"/>
<linearGradient id="surf3" x1="0" x2="0" y1="0" y2="1"><stop offset="0" stop-color="#31566f"/><stop offset="0.3" stop-color="#77868f"/><stop offset="0.7" stop-color="#b9bdc1"/><stop offset="1" stop-color="#56707f"/></linearGradient>
<ellipse cx="1030.75" cy="399.6" rx="56.95" ry="7.2" fill="url(#surf3)" stroke="#16304a" stroke-width="2"/>
<linearGradient id="cap3" x1="0" x2="0" y1="0" y2="1"><stop offset="0" stop-color="#fdfdfd"/><stop offset="0.12" stop-color="#f6f6f5"/><stop offset="0.5" stop-color="#efefed"/><stop offset="0.86" stop-color="#e9e9e6"/><stop offset="0.9" stop-color="#fbfbfa"/><stop offset="1" stop-color="#f4f4f2"/></linearGradient>
<rect x="973.9" y="254.7" width="116.5" height="45.3" rx="5.5" ry="5" fill="url(#cap3)"/>
<rect x="977.9" y="261.7" width="108.5" height="31.3" fill="url(#ribs)" opacity="0.55"/>
<linearGradient id="capsh3" x1="0" x2="1" y1="0" y2="0"><stop offset="0" stop-color="#fff" stop-opacity="0.6"/><stop offset="0.15" stop-color="#fff" stop-opacity="0"/><stop offset="0.8" stop-color="#fff" stop-opacity="0"/><stop offset="1" stop-color="#fff" stop-opacity="0.7"/></linearGradient>
<rect x="973.9" y="254.7" width="116.5" height="45.3" rx="5.5" ry="5" fill="url(#capsh3)"/>
<path d="M1100.5,295V313Q1090,316 1090,327V485.5Q1090,493.5 1104,494.5H1196.5Q1210.5,493.5 1210.5,485.5V327Q1210.5,316 1199.5,313V295Z" fill="url(#glass4)" stroke="#b4b5c0" stroke-width="1.2"/>
<linearGradient id="glass4" x1="0" x2="1" y1="0" y2="0"><stop offset="0" stop-color="#cfd0d9"/><stop offset="0.06" stop-color="#eeeff3"/><stop offset="0.3" stop-color="#e7e8ee"/><stop offset="0.5" stop-color="#eeeff3"/><stop offset="0.8" stop-color="#e6e7ed"/><stop offset="0.95" stop-color="#eef0f3"/><stop offset="1" stop-color="#cbccd6"/></linearGradient>
<path d="M1100.5,301h8M1100.5,306h7M1199.5,301h-8M1199.5,306h-7" stroke="#bcbcb8" stroke-width="2.2" opacity="0.8"/>
<ellipse cx="1150.25" cy="306" rx="47.5" ry="4.5" fill="none" stroke="#d2d3da" stroke-width="1.4"/>
<ellipse cx="1150.25" cy="321" rx="54.25" ry="5" fill="none" stroke="#f6f6f9" stroke-width="1.6" opacity="0.8"/>
<linearGradient id="liq4" x1="0" x2="0" y1="0" y2="1"><stop offset="0" stop-color="#3b7b71"/><stop offset="0.3" stop-color="#357067"/><stop offset="0.62" stop-color="#2c5e58"/><stop offset="0.85" stop-color="#38786f"/><stop offset="1" stop-color="#44897c"/></linearGradient>
<path d="M1091,399.2V480.5Q1091,488.5 1106,490Q1150.25,495 1194.5,490Q1209.5,488.5 1209.5,480.5V399.2Z" fill="url(#liq4)"/>
<linearGradient id="lsh4" x1="0" x2="1" y1="0" y2="0"><stop offset="0" stop-color="#000" stop-opacity="0.18"/><stop offset="0.05" stop-color="#fff" stop-opacity="0.08"/><stop offset="0.16" stop-color="#fff" stop-opacity="0.05"/><stop offset="0.17" stop-color="#000" stop-opacity="0"/><stop offset="0.82" stop-color="#000" stop-opacity="0"/><stop offset="0.83" stop-color="#000" stop-opacity="0.12"/><stop offset="1" stop-color="#000" stop-opacity="0.22"/></linearGradient>
<rect x="1091" y="399.2" width="118.5" height="80.3" fill="url(#lsh4)"/>
<path d="M1093,479.5Q1150.25,486.5 1207.5,479.5V484.5Q1207.5,489.5 1194.5,491Q1150.25,495.5 1106,491Q1093,489.5 1093,484.5Z" fill="#5a9c8c" opacity="0.85"/>
<linearGradient id="surf4" x1="0" x2="0" y1="0" y2="1"><stop offset="0" stop-color="#35524f"/><stop offset="0.3" stop-color="#7c8886"/><stop offset="0.7" stop-color="#bcc0be"/><stop offset="1" stop-color="#566f6a"/></linearGradient>
<ellipse cx="1150.25" cy="399.2" rx="59.25" ry="7.2" fill="url(#surf4)" stroke="#1c3a38" stroke-width="2"/>
<linearGradient id="cap4" x1="0" x2="0" y1="0" y2="1"><stop offset="0" stop-color="#fdfdfd"/><stop offset="0.12" stop-color="#f6f6f5"/><stop offset="0.5" stop-color="#efefed"/><stop offset="0.86" stop-color="#e9e9e6"/><stop offset="0.9" stop-color="#fbfbfa"/><stop offset="1" stop-color="#f4f4f2"/></linearGradient>
<rect x="1094" y="251.7" width="118" height="45.3" rx="5.5" ry="5" fill="url(#cap4)"/>
<rect x="1098" y="258.7" width="110" height="31.3" fill="url(#ribs)" opacity="0.55"/>
<linearGradient id="capsh4" x1="0" x2="1" y1="0" y2="0"><stop offset="0" stop-color="#fff" stop-opacity="0.6"/><stop offset="0.15" stop-color="#fff" stop-opacity="0"/><stop offset="0.8" stop-color="#fff" stop-opacity="0"/><stop offset="1" stop-color="#fff" stop-opacity="0.7"/></linearGradient>
<rect x="1094" y="251.7" width="118" height="45.3" rx="5.5" ry="5" fill="url(#capsh4)"/>
<path d="M880,489q30,4 60,0" stroke="#e8d8a0" stroke-width="1.6" fill="none" opacity="0.8"/><path d="M1000,489q30,4 60,0" stroke="#e0d890" stroke-width="1.6" fill="none" opacity="0.8"/><path d="M1115,489q35,5 70,0" stroke="#e6d860" stroke-width="1.8" fill="none" opacity="0.9"/>
</g></g>
<text x="790.6" y="544.8" font-size="25" text-anchor="middle" fill="#000">PM6</text>
<text x="911.6" y="544.8" font-size="25" text-anchor="middle" fill="#000">PCE-10</text>
<text x="1029.4" y="544.8" font-size="25" text-anchor="middle" fill="#000">IEICO-4F</text>
<text x="1152.9" y="544.8" font-size="25" text-anchor="middle" fill="#000">COTIC-4F</text>
</g>
<g id="panel-e">
<text x="1238.6" y="36.5" font-size="52" font-weight="bold" fill="#000">e</text>
<rect x="1319.5" y="13.3" width="131.2" height="125.7" fill="#EDE8E0"/>
<rect x="1450.3" y="13.3" width="131.1" height="125.7" fill="#E2DACE"/>
<rect x="1581" y="13.3" width="131.3" height="125.7" fill="#4B78A4"/>
<rect x="1711.9" y="13.3" width="131.2" height="125.7" fill="#2D4B69"/>
<rect x="1319.5" y="138.6" width="131.2" height="125.8" fill="#DACEBD"/>
<rect x="1450.3" y="138.6" width="131.1" height="125.8" fill="#698FB3"/>
<rect x="1581" y="138.6" width="131.3" height="125.8" fill="#2D4B69"/>
<rect x="1711.9" y="138.6" width="131.2" height="125.8" fill="#4B78A4"/>
<rect x="1319.5" y="264" width="131.2" height="125.6" fill="#698FB3"/>
<rect x="1450.3" y="264" width="131.1" height="125.6" fill="#2D4B69"/>
<rect x="1581" y="264" width="131.3" height="125.6" fill="#698FB3"/>
<rect x="1711.9" y="264" width="131.2" height="125.6" fill="#E2DACE"/>
<rect x="1319.5" y="389.2" width="131.2" height="126.3" fill="#2D4B69"/>
<rect x="1450.3" y="389.2" width="131.1" height="126.3" fill="#698FB3"/>
<rect x="1581" y="389.2" width="131.3" height="126.3" fill="#DCD0C1"/>
<rect x="1711.9" y="389.2" width="131.2" height="126.3" fill="#EDE8E0"/>
<rect x="1319.5" y="13.3" width="523.2" height="501.8" fill="none" stroke="#000" stroke-width="4.4"/>
<text x="1385.3" y="89.2" font-size="35.5" text-anchor="middle" fill="#000">0.00</text>
<text x="1516" y="89.2" font-size="35.5" text-anchor="middle" fill="#000">0.20</text>
<text x="1649.8" y="89.2" font-size="35.5" text-anchor="middle" fill="#fff">0.61</text>
<text x="1780.2" y="89.2" font-size="35.5" text-anchor="middle" fill="#fff">0.99</text>
<text x="1385.3" y="210.6" font-size="35.5" text-anchor="middle" fill="#000">0.12</text>
<text x="1516" y="210.6" font-size="35.5" text-anchor="middle" fill="#fff">0.62</text>
<text x="1649.8" y="210.6" font-size="35.5" text-anchor="middle" fill="#fff">0.99</text>
<text x="1780.2" y="210.6" font-size="35.5" text-anchor="middle" fill="#fff">0.61</text>
<text x="1385.3" y="338.6" font-size="35.5" text-anchor="middle" fill="#fff">0.70</text>
<text x="1516" y="338.6" font-size="35.5" text-anchor="middle" fill="#fff">0.99</text>
<text x="1649.8" y="338.6" font-size="35.5" text-anchor="middle" fill="#fff">0.62</text>
<text x="1780.2" y="338.6" font-size="35.5" text-anchor="middle" fill="#000">0.19</text>
<text x="1385.3" y="462" font-size="35.5" text-anchor="middle" fill="#fff">0.99</text>
<text x="1516" y="462" font-size="35.5" text-anchor="middle" fill="#fff">0.70</text>
<text x="1649.8" y="462" font-size="35.5" text-anchor="middle" fill="#000">0.12</text>
<text x="1780.2" y="462" font-size="35.5" text-anchor="middle" fill="#000">0.00</text>
<text x="1382.4" y="548.3" font-size="26.3" text-anchor="middle" fill="#000">PM6</text>
<text x="1517.7" y="548.3" font-size="26.3" text-anchor="middle" fill="#000">PCE-10</text>
<text x="1648.9" y="548.3" font-size="26.3" text-anchor="middle" fill="#000">IEICO-4F</text>
<text x="1778.8" y="548.3" font-size="26.3" text-anchor="middle" fill="#000">COTIC-4F</text>
<text x="1303.2" y="448" font-size="26" text-anchor="middle" fill="#000" transform="rotate(-90 1303.2 448)">PM6</text>
<text x="1303.2" y="325.5" font-size="26" text-anchor="middle" fill="#000" transform="rotate(-90 1303.2 325.5)">PCE-10</text>
<text x="1303.2" y="204.4" font-size="26" text-anchor="middle" fill="#000" transform="rotate(-90 1303.2 204.4)">IEICO-4F</text>
<text x="1303.2" y="75.8" font-size="26" text-anchor="middle" fill="#000" transform="rotate(-90 1303.2 75.8)">COTIC-4F</text>
<rect x="1865.6" y="12.9" width="27.6" height="17.24" fill="#2E4C6A"/>
<rect x="1865.6" y="29.64" width="27.6" height="17.24" fill="#305170"/>
<rect x="1865.6" y="29.34" width="27.6" height="0.6" fill="#fff" opacity="0.10"/>
<rect x="1865.6" y="46.37" width="27.6" height="17.24" fill="#325677"/>
<rect x="1865.6" y="46.07" width="27.6" height="0.6" fill="#fff" opacity="0.10"/>
<rect x="1865.6" y="63.11" width="27.6" height="17.24" fill="#365A7F"/>
<rect x="1865.6" y="62.81" width="27.6" height="0.6" fill="#fff" opacity="0.10"/>
<rect x="1865.6" y="79.85" width="27.6" height="17.24" fill="#395F87"/>
<rect x="1865.6" y="79.55" width="27.6" height="0.6" fill="#fff" opacity="0.10"/>
<rect x="1865.6" y="96.58" width="27.6" height="17.24" fill="#3D6690"/>
<rect x="1865.6" y="96.28" width="27.6" height="0.6" fill="#fff" opacity="0.10"/>
<rect x="1865.6" y="113.32" width="27.6" height="17.24" fill="#406C9A"/>
<rect x="1865.6" y="113.02" width="27.6" height="0.6" fill="#fff" opacity="0.10"/>
<rect x="1865.6" y="130.06" width="27.6" height="17.24" fill="#4573A1"/>
<rect x="1865.6" y="129.76" width="27.6" height="0.6" fill="#fff" opacity="0.10"/>
<rect x="1865.6" y="146.79" width="27.6" height="17.24" fill="#4C79A6"/>
<rect x="1865.6" y="146.49" width="27.6" height="0.6" fill="#fff" opacity="0.10"/>
<rect x="1865.6" y="163.53" width="27.6" height="17.24" fill="#5480AA"/>
<rect x="1865.6" y="163.23" width="27.6" height="0.6" fill="#fff" opacity="0.10"/>
<rect x="1865.6" y="180.27" width="27.6" height="17.24" fill="#5E87AE"/>
<rect x="1865.6" y="179.97" width="27.6" height="0.6" fill="#fff" opacity="0.10"/>
<rect x="1865.6" y="197" width="27.6" height="17.24" fill="#688EB3"/>
<rect x="1865.6" y="196.7" width="27.6" height="0.6" fill="#fff" opacity="0.10"/>
<rect x="1865.6" y="213.74" width="27.6" height="17.24" fill="#7295B6"/>
<rect x="1865.6" y="213.44" width="27.6" height="0.6" fill="#fff" opacity="0.10"/>
<rect x="1865.6" y="230.48" width="27.6" height="17.24" fill="#7C9CBA"/>
<rect x="1865.6" y="230.18" width="27.6" height="0.6" fill="#fff" opacity="0.10"/>
<rect x="1865.6" y="247.21" width="27.6" height="17.24" fill="#87A2BC"/>
<rect x="1865.6" y="246.91" width="27.6" height="0.6" fill="#fff" opacity="0.10"/>
<rect x="1865.6" y="263.95" width="27.6" height="17.24" fill="#91A7BD"/>
<rect x="1865.6" y="263.65" width="27.6" height="0.6" fill="#fff" opacity="0.10"/>
<rect x="1865.6" y="280.69" width="27.6" height="17.24" fill="#9CACBB"/>
<rect x="1865.6" y="280.39" width="27.6" height="0.6" fill="#fff" opacity="0.10"/>
<rect x="1865.6" y="297.42" width="27.6" height="17.24" fill="#A6B0B9"/>
<rect x="1865.6" y="297.12" width="27.6" height="0.6" fill="#fff" opacity="0.10"/>
<rect x="1865.6" y="314.16" width="27.6" height="17.24" fill="#B0B4B6"/>
<rect x="1865.6" y="313.86" width="27.6" height="0.6" fill="#fff" opacity="0.10"/>
<rect x="1865.6" y="330.9" width="27.6" height="17.24" fill="#BBB8B3"/>
<rect x="1865.6" y="330.6" width="27.6" height="0.6" fill="#fff" opacity="0.10"/>
<rect x="1865.6" y="347.63" width="27.6" height="17.24" fill="#C6BDB1"/>
<rect x="1865.6" y="347.33" width="27.6" height="0.6" fill="#fff" opacity="0.10"/>
<rect x="1865.6" y="364.37" width="27.6" height="17.24" fill="#CFC4B3"/>
<rect x="1865.6" y="364.07" width="27.6" height="0.6" fill="#fff" opacity="0.10"/>
<rect x="1865.6" y="381.11" width="27.6" height="17.24" fill="#D5C9B6"/>
<rect x="1865.6" y="380.81" width="27.6" height="0.6" fill="#fff" opacity="0.10"/>
<rect x="1865.6" y="397.84" width="27.6" height="17.24" fill="#D8CDBC"/>
<rect x="1865.6" y="397.54" width="27.6" height="0.6" fill="#fff" opacity="0.10"/>
<rect x="1865.6" y="414.58" width="27.6" height="17.24" fill="#DCD1C2"/>
<rect x="1865.6" y="414.28" width="27.6" height="0.6" fill="#fff" opacity="0.10"/>
<rect x="1865.6" y="431.32" width="27.6" height="17.24" fill="#DFD6C8"/>
<rect x="1865.6" y="431.02" width="27.6" height="0.6" fill="#fff" opacity="0.10"/>
<rect x="1865.6" y="448.05" width="27.6" height="17.24" fill="#E2DACD"/>
<rect x="1865.6" y="447.75" width="27.6" height="0.6" fill="#fff" opacity="0.10"/>
<rect x="1865.6" y="464.79" width="27.6" height="17.24" fill="#E6DED3"/>
<rect x="1865.6" y="464.49" width="27.6" height="0.6" fill="#fff" opacity="0.10"/>
<rect x="1865.6" y="481.53" width="27.6" height="17.24" fill="#E8E2D8"/>
<rect x="1865.6" y="481.23" width="27.6" height="0.6" fill="#fff" opacity="0.10"/>
<rect x="1865.6" y="498.26" width="27.6" height="17.24" fill="#ECE6DD"/>
<rect x="1865.6" y="497.96" width="27.6" height="0.6" fill="#fff" opacity="0.10"/>
<rect x="1865.6" y="12.9" width="27.6" height="502.1" fill="none" stroke="#111" stroke-width="1.5"/>
<text x="1903.4" y="22.1" font-size="24.8" fill="#000">1.0</text>
<text x="1903.4" y="122.4" font-size="24.8" fill="#000">0.8</text>
<text x="1903.4" y="222.7" font-size="24.8" fill="#000">0.6</text>
<text x="1903.4" y="323" font-size="24.8" fill="#000">0.4</text>
<text x="1903.4" y="423.3" font-size="24.8" fill="#000">0.2</text>
<text x="1903.4" y="523.6" font-size="24.8" fill="#000">0.0</text>
<text x="1977.2" y="273.2" font-size="29.5" text-anchor="middle" fill="#000" transform="rotate(-90 1977.2 273.2)">Prediction accuracy (a.u.)</text>
</g>
<g id="panel-d">
<path d="M31,600.8h12.4M47.7,600.8h12.4M64.41,600.8h12.4M81.11,600.8h12.4M97.82,600.8h12.4M114.52,600.8h12.4M131.23,600.8h12.4M147.94,600.8h12.4M164.64,600.8h12.4M181.34,600.8h12.4M198.05,600.8h12.4M214.75,600.8h12.4M231.46,600.8h12.4M248.16,600.8h12.4M264.87,600.8h12.4M281.57,600.8h12.4M298.28,600.8h12.4M314.98,600.8h12.4M331.69,600.8h12.4M348.39,600.8h12.4M365.1,600.8h12.4M381.8,600.8h12.4M398.51,600.8h12.4M415.21,600.8h12.4M431.92,600.8h12.4M448.62,600.8h12.4M465.33,600.8h12.4M482.03,600.8h12.4M498.74,600.8h12.4M515.44,600.8h12.4M532.15,600.8h12.4M548.85,600.8h12.4M565.56,600.8h12.4M582.26,600.8h12.4M598.97,600.8h12.4M615.67,600.8h12.4M632.38,600.8h12.4M649.09,600.8h12.4M665.79,600.8h12.4M682.5,600.8h12.4M699.2,600.8h12.4M715.91,600.8h12.4M732.61,600.8h12.4M749.32,600.8h12.4M766.02,600.8h12.4M782.73,600.8h12.4M799.43,600.8h12.4M816.14,600.8h12.4M832.84,600.8h12.4M849.55,600.8h12.4M866.25,600.8h12.4M882.96,600.8h12.4M899.66,600.8h12.4M916.37,600.8h12.4M933.07,600.8h12.4M949.78,600.8h12.4M966.48,600.8h12.4M983.19,600.8h12.4M999.89,600.8h12.4M1016.6,600.8h12.4M1033.3,600.8h12.4M1050.01,600.8h12.4M1066.71,600.8h12.4M1083.42,600.8h12.4M1100.12,600.8h12.4M1116.83,600.8h12.4M1133.53,600.8h12.4M1150.24,600.8h12.4M1166.94,600.8h12.4M1183.65,600.8h12.4M1200.35,600.8h12.4M1217.06,600.8h12.4M1233.76,600.8h12.4M1250.46,600.8h12.4M1267.17,600.8h12.4M1283.87,600.8h12.4M1300.58,600.8h12.4M1317.28,600.8h12.4M1333.99,600.8h12.4M1350.69,600.8h12.4M1367.4,600.8h12.4M1384.1,600.8h12.4M1400.81,600.8h12.4M1417.51,600.8h12.4M1434.22,600.8h12.4M1450.92,600.8h12.4M1467.63,600.8h12.4M1484.33,600.8h12.4M1501.04,600.8h12.4M1517.74,600.8h12.4M1534.45,600.8h12.4M1551.15,600.8h12.4M1567.86,600.8h12.4M1584.56,600.8h12.4M1601.27,600.8h12.4M1617.97,600.8h12.4M1634.68,600.8h12.4M1651.38,600.8h12.4M1668.09,600.8h12.4M1684.79,600.8h12.4M1701.5,600.8h12.4M1718.2,600.8h12.4M1734.91,600.8h12.4M1751.61,600.8h12.4M1768.32,600.8h12.4M1785.02,600.8h12.4M1801.73,600.8h12.4M1818.43,600.8h12.4M1835.14,600.8h12.4M1851.84,600.8h12.4M1868.55,600.8H1879.5Q1880.6,600.8 1881.6,600.95M1895.0,616.1v12.4M1895.0,632.81v12.4M1895.0,649.51v12.4M1895.0,666.22v12.4M1895.0,682.92v12.4M1895.0,699.63v12.4M1895.0,716.33v12.4M1895.0,733.04v12.4M1895.0,749.74v12.4M1895.0,766.45v12.4M1895.0,783.15v12.4M1895.0,799.86v12.4M1895.0,816.56v12.4M1895.0,833.27v12.4M1895.0,849.97v12.4M1895.0,866.68v12.4M1895.0,883.38v12.4M1895.0,900.09v12.4M1895.0,916.79v12.4M1895.0,933.5v12.4M1895.0,950.2v12.4M1895.0,966.91v12.4M1895.0,983.61v12.4M1895.0,1000.32v12.4M1895.0,1017.02v12.4M1895.0,1033.73v12.4M1895.0,1050.43v12.4M1895.0,1067.14v12.4M1895.0,1083.84v12.4M1895.0,1100.55v12.4M1895.0,1117.25v12.4M1895.0,1133.96v12.4M1895.0,1150.66v12.4M19.4,1183.8h12.4M36.1,1183.8h12.4M52.81,1183.8h12.4M69.51,1183.8h12.4M86.22,1183.8h12.4M102.92,1183.8h12.4M119.63,1183.8h12.4M136.33,1183.8h12.4M153.04,1183.8h12.4M169.74,1183.8h12.4M186.45,1183.8h12.4M203.15,1183.8h12.4M219.86,1183.8h12.4M236.56,1183.8h12.4M253.27,1183.8h12.4M269.97,1183.8h12.4M286.68,1183.8h12.4M303.38,1183.8h12.4M320.09,1183.8h12.4M336.79,1183.8h12.4M353.5,1183.8h12.4M370.2,1183.8h12.4M386.91,1183.8h12.4M403.61,1183.8h12.4M420.32,1183.8h12.4M437.02,1183.8h12.4M453.73,1183.8h12.4M470.43,1183.8h12.4M487.14,1183.8h12.4M503.84,1183.8h12.4M520.55,1183.8h12.4M537.25,1183.8h12.4M553.96,1183.8h12.4M570.66,1183.8h12.4M587.37,1183.8h12.4M604.07,1183.8h12.4M620.78,1183.8h12.4M637.48,1183.8h12.4M654.19,1183.8h12.4M670.89,1183.8h12.4M687.6,1183.8h12.4M704.31,1183.8h12.4M721.01,1183.8h12.4M737.72,1183.8h12.4M754.42,1183.8h12.4M771.13,1183.8h12.4M787.83,1183.8h12.4M804.54,1183.8h12.4M821.24,1183.8h12.4M837.95,1183.8h12.4M854.65,1183.8h12.4M871.36,1183.8h12.4M888.06,1183.8h12.4M904.77,1183.8h12.4M921.47,1183.8h12.4M938.18,1183.8h12.4M954.88,1183.8h12.4M971.59,1183.8h12.4M988.29,1183.8h12.4M1005,1183.8h12.4M1021.7,1183.8h12.4M1038.41,1183.8h12.4M1055.11,1183.8h12.4M1071.82,1183.8h12.4M1088.52,1183.8h12.4M1105.23,1183.8h12.4M1121.93,1183.8h12.4M1138.64,1183.8h12.4M1155.34,1183.8h12.4M1172.05,1183.8h12.4M1188.75,1183.8h12.4M1205.46,1183.8h12.4M1222.16,1183.8h12.4M1238.87,1183.8h12.4M1255.57,1183.8h12.4M1272.27,1183.8h12.4M1288.98,1183.8h12.4M1305.68,1183.8h12.4M1322.39,1183.8h12.4M1339.09,1183.8h12.4M1355.8,1183.8h12.4M1372.5,1183.8h12.4M1389.21,1183.8h12.4M1405.91,1183.8h12.4M1422.62,1183.8h12.4M1439.32,1183.8h12.4M1456.03,1183.8h12.4M1472.73,1183.8h12.4M1489.44,1183.8h12.4M1506.14,1183.8h12.4M1522.85,1183.8h12.4M1539.55,1183.8h12.4M1556.26,1183.8h12.4M1572.96,1183.8h12.4M1589.67,1183.8h12.4M1606.37,1183.8h12.4M1623.08,1183.8h12.4M1639.78,1183.8h12.4M1656.49,1183.8h12.4M1673.19,1183.8h12.4M1689.9,1183.8h12.4M1706.6,1183.8h12.4M1723.31,1183.8h12.4M1740.01,1183.8h12.4M1756.72,1183.8h12.4M1773.42,1183.8h12.4M1790.13,1183.8h12.4M1806.83,1183.8h12.4M1823.54,1183.8h12.4M1840.24,1183.8h12.4M1856.95,1183.8h12.4M3.5,619.1v12.4M3.5,635.81v12.4M3.5,652.51v12.4M3.5,669.22v12.4M3.5,685.92v12.4M3.5,702.63v12.4M3.5,719.33v12.4M3.5,736.04v12.4M3.5,752.74v12.4M3.5,769.45v12.4M3.5,786.15v12.4M3.5,802.86v12.4M3.5,819.56v12.4M3.5,836.27v12.4M3.5,852.97v12.4M3.5,869.68v12.4M3.5,886.38v12.4M3.5,903.09v12.4M3.5,919.79v12.4M3.5,936.5v12.4M3.5,953.2v12.4M3.5,969.91v12.4M3.5,986.61v12.4M3.5,1003.32v12.4M3.5,1020.02v12.4M3.5,1036.73v12.4M3.5,1053.43v12.4M3.5,1070.14v12.4M3.5,1086.84v12.4M3.5,1103.55v12.4M3.5,1120.25v12.4M3.5,1136.96v12.4M3.5,614.8A14,14 0 0 1 17.5,600.8H26.8M1884.39,601.46A15,15 0 0 1 1894.49,611.92M1895.0,1167.3A17,17 0 0 1 1889.59,1179.23M1886.11,1181.74A17,17 0 0 1 1878,1183.8H1874.2M3.5,1153.4V1166.8A17,17 0 0 0 4.33,1172.05M5.63,1175.04A17,17 0 0 0 15.53,1183.06" fill="none" stroke="#808080" stroke-width="4.3"/>
<text x="14.4" y="657.2" font-size="52" font-weight="bold" fill="#000">d</text>
<rect x="606.3" y="625.9" width="20.8" height="33.8" fill="#A5CEF8" stroke="#d4d0d0" stroke-width="0.6"/>
<rect x="627.3" y="625.9" width="20.8" height="33.8" fill="#FDD3BC" stroke="#d4d0d0" stroke-width="0.6"/>
<rect x="648.1" y="625.9" width="20.8" height="33.8" fill="#FFC9CF" stroke="#d4d0d0" stroke-width="0.6"/>
<text x="677.2" y="652.9" font-size="29.4" fill="#000">OECS</text>
<path d="M1019.1,642.8H1045M1053,642.8H1080.1" stroke="#808080" stroke-width="4" stroke-linecap="round" fill="none"/>
<text x="1088.8" y="652.6" font-size="29.4" fill="#000">Commercial spectrometer</text>
<clipPath id="clip1"><rect x="104.7" y="692.6" width="359.9" height="400.5"/></clipPath>
<g clip-path="url(#clip1)"><polygon points="102.7,1095.1 102.7,918.34 104.45,918.34 105.93,920.19 111.13,931.32 117.62,927.61 123.18,920.19 127.81,922.42 132.45,921.12 137.09,922.05 143.58,918.34 150.06,917.41 154.7,910 159.34,908.14 163.97,897.94 170.46,888.67 175.1,871.98 180.66,864.57 186.22,844.17 190.86,836.75 193.64,825.63 200.13,807.09 207.55,797.81 211.26,797.44 218.67,793.18 224.24,786.69 228.31,782.61 233.31,787.24 237.61,803 240.48,823.07 243.35,848.88 246.22,880.41 249.08,920.55 251.95,960.69 256.25,997.96 260.55,1026.63 264.85,1046.7 269.15,1061.03 272.02,1069.06 271.64,1068.8 276.41,1061.18 281.7,1068.27 285.93,1065.09 289.64,1066.15 293.87,1064.35 298.1,1066.89 302.87,1061.18 308.16,1070.7 313.45,1060.12 318,1069.86 323.82,1058.74 329.33,1070.7 334.09,1060.12 339.38,1069.86 343.62,1066.47 348.38,1070.91 352.61,1068.8 356.32,1070.07 360.55,1066.89 366.9,1074.09 371.13,1069.33 374.84,1070.07 378.01,1068.59 382.78,1074.62 388.07,1067.21 392.83,1073.03 397.6,1068.27 404.48,1074.09 410.3,1068.8 415.59,1073.24 419.82,1071.13 426.17,1072.5 432.52,1070.39 437.29,1074.62 442.05,1070.07 446.81,1073.56 450.52,1072.18 454.75,1075.68 458.98,1073.03 463.75,1075.15 465.86,1075.36 466.6,1075.36 466.6,1095.1" fill="#B9C0E0" stroke="#B9C0E0" stroke-width="0.8" stroke-linejoin="round"/>
<path d="M102.6,918.34L110.45,943.96M136.51,936.8Q142.52,936.13 149.04,931.05M166.73,906.03L173.26,890.79M182.44,863.36L188.52,848.16M196.44,820.75L202.89,806.4M223.08,787.84Q228.29,776.55 233.59,789.5M238.33,817.78L240.87,835.32M243.57,862.48L245.63,880.12M246.89,906.89L248.31,924.61M249.48,951.39L250.92,970.31M253.02,997.08L255.48,1014.82M258.01,1041.52L262.49,1057.98M280.3,1079.17L297.9,1078.93M324.7,1079.05L340.3,1080.05M367.1,1084.54L385.2,1084.86M411.5,1085.85L431.3,1087.15M456.5,1087.86L470,1088.2" fill="none" stroke="#808080" stroke-width="4.6" stroke-linecap="round" stroke-linejoin="round"/></g>
<rect x="104.7" y="692.6" width="359.9" height="400.5" fill="none" stroke="#000" stroke-width="3"/>
<path d="M115.2,1093.1v-7.2M221.1,1093.1v-7.2M327.1,1093.1v-7.2M433.1,1093.1v-7.2M104.7,720.5h7.2M104.7,813.65h7.2M104.7,906.8h7.2M104.7,999.95h7.2" stroke="#000" stroke-width="2.9" fill="none"/>
<text x="114.6" y="1121.9" font-size="26.8" text-anchor="middle" fill="#000">400</text>
<text x="220.5" y="1121.9" font-size="26.8" text-anchor="middle" fill="#000">600</text>
<text x="326.5" y="1121.9" font-size="26.8" text-anchor="middle" fill="#000">800</text>
<text x="432.5" y="1121.9" font-size="26.8" text-anchor="middle" fill="#000">1000</text>
<text x="96.5" y="729.8" font-size="26.8" text-anchor="end" fill="#000">1.2</text>
<text x="96.5" y="822.95" font-size="26.8" text-anchor="end" fill="#000">0.9</text>
<text x="96.5" y="916.1" font-size="26.8" text-anchor="end" fill="#000">0.6</text>
<text x="96.5" y="1009.25" font-size="26.8" text-anchor="end" fill="#000">0.3</text>
<text x="96.5" y="1102.4" font-size="26.8" text-anchor="end" fill="#000">0.0</text>
<text x="285.25" y="1152.5" font-size="27.3" text-anchor="middle" fill="#000">Wavelength (nm)</text>
<text x="42.6" y="892.8" font-size="27" text-anchor="middle" fill="#000" transform="rotate(-90 42.6 892.8)">Absorption (a.u.)</text>
<text x="226.8" y="775.8" font-size="23.9" text-anchor="middle" font-weight="bold" fill="#4A5FAE">PM6</text>
<clipPath id="clip2"><rect x="567.7" y="692.6" width="360" height="400.5"/></clipPath>
<g clip-path="url(#clip2)"><polygon points="565.7,1095.1 565.7,970.72 567.45,970.72 569.17,973.59 572.9,980.76 577.2,982.19 581.5,979.32 585.8,977.32 590.1,980.18 594.4,973.59 598.7,971.58 603,975.02 608.17,960.69 612.18,970.72 617.34,949.22 621.64,963.56 627.95,946.35 633.11,959.25 638.84,943.49 644.58,952.09 650.31,933.45 654.61,936.32 660.34,914.82 664.64,911.95 667.51,890.45 673.25,889.01 676.11,868.94 681.85,860.34 687.58,843.14 693.31,830.24 700.48,822.5 707.65,825.37 714.82,829.67 720.55,821.64 726.28,808.74 732.02,794.4 737.18,783.51 738.03,782.36 742.9,791.54 747.2,811.61 751.5,831.67 755.8,857.48 760.1,891.88 762.97,920.55 765.84,952.09 768.7,977.89 771.57,1000.83 774.44,1016.59 775.42,1019.96 782.68,1040.37 787.22,1037.2 792.66,1047.18 798.11,1040.83 804.46,1050.81 809.45,1039.01 814.44,1058.97 819.43,1036.74 824.42,1055.34 828.68,1043.1 833.49,1053.08 838.03,1046.27 842.56,1049.72 847.1,1050.81 851.63,1046.27 856.62,1053.08 861.43,1044.91 867.06,1054.26 872.5,1048.09 877.49,1053.53 882.48,1048.99 890.65,1051.26 895.18,1049.45 900.45,1056.98 905.62,1048.99 912.42,1051.71 916.51,1054.26 921.04,1050.81 926.03,1057.61 929.7,1057.61 929.7,1095.1" fill="#A8D1FA" stroke="#A8D1FA" stroke-width="0.8" stroke-linejoin="round"/>
<path d="M565.73,993.66Q568.29,999.43 574.38,1005.05M594.61,1001.03L602.8,994.89M620.66,978.53L632.65,973.52M649.01,959.21L655.49,947.93M664.14,926.64L668.55,915.61M676.71,894.17L681.2,882.25M687.22,859.85L691.45,847.59M700.03,829.27Q701.94,824.26 709.06,832.13M723.52,818.55L728.4,807.12M735.52,786.04Q738.44,776.58 742.99,789.01M748.21,811.86L750.98,823.63M754.15,847.13L755.8,858.83M757.86,882.36L759.51,894.06M760.96,917.6L762.34,929.28M764.08,953.76L765.16,964.51M766.7,988.53L768.4,1000.27M770.04,1022.9L772.66,1035M776.45,1057.42L781.55,1067.18M801.42,1078.19Q807.9,1080.82 815.13,1081.35M836.45,1082.45L850.49,1082.94M871.37,1083.78L885.88,1084.7M906.76,1085.87L920.81,1086.78" fill="none" stroke="#808080" stroke-width="4.1" stroke-linecap="round" stroke-linejoin="round"/></g>
<rect x="567.7" y="692.6" width="360" height="400.5" fill="none" stroke="#000" stroke-width="3"/>
<path d="M578.2,1093.1v-7.2M684.1,1093.1v-7.2M790.1,1093.1v-7.2M896,1093.1v-7.2M567.7,720.5h7.2M567.7,813.65h7.2M567.7,906.8h7.2M567.7,999.95h7.2" stroke="#000" stroke-width="2.9" fill="none"/>
<text x="577.6" y="1121.9" font-size="26.8" text-anchor="middle" fill="#000">400</text>
<text x="683.5" y="1121.9" font-size="26.8" text-anchor="middle" fill="#000">600</text>
<text x="789.5" y="1121.9" font-size="26.8" text-anchor="middle" fill="#000">800</text>
<text x="895.4" y="1121.9" font-size="26.8" text-anchor="middle" fill="#000">1000</text>
<text x="559.5" y="729.8" font-size="26.8" text-anchor="end" fill="#000">1.2</text>
<text x="559.5" y="822.95" font-size="26.8" text-anchor="end" fill="#000">0.9</text>
<text x="559.5" y="916.1" font-size="26.8" text-anchor="end" fill="#000">0.6</text>
<text x="559.5" y="1009.25" font-size="26.8" text-anchor="end" fill="#000">0.3</text>
<text x="559.5" y="1102.4" font-size="26.8" text-anchor="end" fill="#000">0.0</text>
<text x="748.3" y="1152.5" font-size="27.3" text-anchor="middle" fill="#000">Wavelength (nm)</text>
<text x="741.8" y="769" font-size="23.9" text-anchor="middle" font-weight="bold" fill="#4F9FDC">PCE-10</text>
<clipPath id="clip3"><rect x="1032.4" y="690.6" width="362.9" height="403.8"/></clipPath>
<g clip-path="url(#clip3)"><polygon points="1030.4,1096.4 1030.4,946.53 1031.52,946.53 1033.54,948.55 1036.07,956.65 1040.12,966.76 1044.67,962.21 1047.7,968.78 1050.23,974.85 1054.28,979.91 1057.31,993.06 1060.35,1000.65 1064.39,997.61 1068.44,999.13 1073.5,990.53 1078.55,986.49 1082.6,976.88 1085.63,974.65 1090.69,975.06 1094.74,980.92 1097.77,984.46 1101.82,983.15 1106.88,988 1111.93,982.14 1116.99,987.8 1122.56,981.12 1127.11,985.47 1131.15,976.88 1133.18,974.35 1137.22,974.35 1140.26,965.75 1143.29,957.66 1148.35,952.6 1152.4,934.39 1157.45,920.23 1161.5,903.03 1166.69,879.4 1172.25,862.71 1177.81,847.88 1183.38,833.04 1188.94,820.06 1194.5,809.87 1200.06,803.38 1205.63,797.81 1214.9,791.32 1224.17,786.69 1233.44,783.91 1242.71,782.61 1251.98,783.35 1257.55,785.76 1261.26,790.4 1264.96,799.67 1268.67,818.21 1271.45,836.75 1273.86,857.15 1276.09,879.4 1278.31,899.8 1280.35,920.19 1282.58,940.59 1284.43,959.13 1282.4,960 1284.76,974.17 1287.71,998.96 1291.25,1019.02 1294.79,1035.55 1299.51,1053.26 1304.23,1061.52 1307.78,1067.43 1311.32,1066.84 1316.04,1072.15 1320.76,1070.38 1325.48,1076.28 1330.8,1068.02 1336.11,1078.05 1340.83,1068.61 1346.14,1078.05 1351.22,1071.56 1356.77,1076.87 1364.44,1072.15 1369.75,1076.28 1373.88,1073.09 1380.97,1078.05 1388.05,1071.2 1393.36,1078.05 1396.9,1078.05 1397.3,1078.05 1397.3,1096.4" fill="#FDD3BE" stroke="#FDD3BE" stroke-width="0.8" stroke-linejoin="round"/>
<path d="M1031.01,950.58L1037.83,966.94M1051.87,985.35L1056.17,998.24M1067.44,1009.47Q1072.55,1006.55 1077.4,998.24M1090.44,985Q1094.97,992.79 1102.62,995.59M1124.34,994.19Q1129.87,993.23 1134.46,985.52M1145.1,964.93L1150.08,953.42M1156.08,931.49L1160.34,919.09M1165.36,896.02L1168.38,885.04M1175.18,862.69L1179.34,851.61M1187.33,829.36L1192.22,818.19M1203.08,800.86L1213.19,794.77M1236.36,783.5Q1242.71,782.09 1249.07,783.5M1263.97,801.61L1266.7,812.56M1270.42,835.95L1272.12,848.68M1274.1,872.12L1275.48,883.9M1277.3,907.34L1278.96,919.14M1280.59,942.58L1281.97,954.37M1283.87,977.92L1285.64,989.9M1288.03,1013.33L1289.98,1025.31M1294.1,1048.71L1296.9,1059.82M1306.89,1078.8Q1310.8,1084.23 1319.13,1086.18M1342.23,1088.58L1354.77,1089.48M1377.65,1090.17L1398.67,1091.04" fill="none" stroke="#808080" stroke-width="4.0" stroke-linecap="round" stroke-linejoin="round"/></g>
<rect x="1032.4" y="690.6" width="362.9" height="403.8" fill="none" stroke="#000" stroke-width="3"/>
<path d="M1042.5,1094.4v-7.2M1146.4,1094.4v-7.2M1250.2,1094.4v-7.2M1353.8,1094.4v-7.2M1032.4,718.6h7.2M1032.4,812.5h7.2M1032.4,906.4h7.2M1032.4,1000.3h7.2" stroke="#000" stroke-width="2.9" fill="none"/>
<text x="1041.9" y="1123.2" font-size="27" text-anchor="middle" fill="#000">400</text>
<text x="1145.8" y="1123.2" font-size="27" text-anchor="middle" fill="#000">600</text>
<text x="1249.6" y="1123.2" font-size="27" text-anchor="middle" fill="#000">800</text>
<text x="1353.2" y="1123.2" font-size="27" text-anchor="middle" fill="#000">1000</text>
<text x="1024.2" y="727.9" font-size="27" text-anchor="end" fill="#000">1.2</text>
<text x="1024.2" y="821.8" font-size="27" text-anchor="end" fill="#000">0.9</text>
<text x="1024.2" y="915.7" font-size="27" text-anchor="end" fill="#000">0.6</text>
<text x="1024.2" y="1009.6" font-size="27" text-anchor="end" fill="#000">0.3</text>
<text x="1024.2" y="1103.5" font-size="27" text-anchor="end" fill="#000">0.0</text>
<text x="1224.05" y="1153.8" font-size="27.5" text-anchor="middle" fill="#000">Wavelength (nm)</text>
<text x="1244.3" y="773" font-size="23.9" text-anchor="middle" font-weight="bold" fill="#F8A57B">IEICO-4F</text>
<clipPath id="clip4"><rect x="1500.2" y="690.6" width="363.8" height="403.8"/></clipPath>
<g clip-path="url(#clip4)"><polygon points="1498.2,1096.4 1498.2,1010.6 1499.04,1010.6 1501.57,1011.61 1505.61,1014.65 1507.64,1020.72 1508.65,1029.83 1511.18,1031.35 1520.29,1031.35 1525.35,1034.39 1530.92,1030.34 1535.47,1032.36 1541.04,1022.75 1546.1,1033.88 1550.45,1025.28 1556.22,1041.77 1560.77,1033.07 1565.83,1041.98 1571.4,1033.07 1576.96,1037.93 1583.04,1030.03 1588.1,1036.92 1593.97,1025.99 1598.72,1035.4 1604.29,1022.75 1609.85,1033.68 1611.37,1017.69 1613.9,1015.16 1618.46,1019.91 1623.01,1012.63 1627.57,1009.59 1633.64,1001.49 1639.71,995.42 1644.77,984.29 1649.83,977.2 1656,965.06 1657.62,959.13 1664.11,944.3 1671.52,933.17 1677.09,916.49 1683.58,903.51 1688.21,884.96 1692.85,870.13 1697.48,851.59 1703.04,838.61 1708.61,829.34 1715.1,820.99 1721.59,818.21 1727.15,814.5 1732.71,803.38 1736.42,795.96 1743.84,790.4 1751.26,786.69 1758.67,783.35 1764.24,789.47 1769.8,795.96 1773.51,807.09 1777.21,823.77 1780,838.61 1782.53,861.91 1786.91,890.39 1791.29,923.26 1795.67,958.32 1800.06,993.37 1804.44,1017.48 1808.82,1032.81 1813.2,1047.06 1817.59,1050.34 1822.41,1059.11 1827.45,1056.91 1833.36,1065.68 1838.4,1059.54 1843.88,1066.77 1848.7,1061.74 1854.4,1067.87 1859.22,1063.05 1862.5,1064.58 1865.79,1065.24 1866,1065.24 1866,1096.4" fill="#FFC9D0" stroke="#FFC9D0" stroke-width="0.8" stroke-linejoin="round"/>
<path d="M1498.53,1013.13L1505.3,1034.91M1524.92,1044.32Q1526.58,1046.61 1535.47,1040.48M1553.37,1045.22Q1558.43,1050.68 1564.75,1049.66M1588.09,1043.93L1600.04,1040.53M1619.95,1036.25L1629.61,1026.75M1642.7,1007.22L1648.66,995.77M1657.86,973.88L1662.38,962.93M1671.36,941.42L1675.95,929.57M1683.3,907.07L1687.18,895.3M1693.08,873.31L1696.51,861.94M1704.15,840.53L1709.36,832.05M1724.3,814.1L1731.48,804.15M1743.66,787.28Q1748.86,781.18 1756.21,782.27M1770.54,800.71L1774.99,812.54M1778.37,836.06L1779.76,848.57M1783.9,870.57L1785.54,882.84M1787.84,906.06L1789.49,918.55M1791.13,941.77L1792.77,954.04M1795.58,977.92L1797.52,989.55M1800.05,1012.96L1802.48,1024.62M1806.61,1047.52L1810.37,1059.3M1819.85,1077.55Q1824.88,1083.14 1831.41,1084.61M1854.73,1089.58L1867.98,1091.1" fill="none" stroke="#808080" stroke-width="4.2" stroke-linecap="round" stroke-linejoin="round"/></g>
<rect x="1500.2" y="690.6" width="363.8" height="403.8" fill="none" stroke="#000" stroke-width="3"/>
<path d="M1510.9,1094.4v-7.2M1617.8,1094.4v-7.2M1724.4,1094.4v-7.2M1831,1094.4v-7.2M1500.2,718.6h7.2M1500.2,812.5h7.2M1500.2,906.4h7.2M1500.2,1000.5h7.2" stroke="#000" stroke-width="2.9" fill="none"/>
<text x="1510.3" y="1123.2" font-size="27" text-anchor="middle" fill="#000">400</text>
<text x="1617.2" y="1123.2" font-size="27" text-anchor="middle" fill="#000">600</text>
<text x="1723.8" y="1123.2" font-size="27" text-anchor="middle" fill="#000">800</text>
<text x="1830.4" y="1123.2" font-size="27" text-anchor="middle" fill="#000">1000</text>
<text x="1492" y="727.9" font-size="27" text-anchor="end" fill="#000">1.2</text>
<text x="1492" y="821.8" font-size="27" text-anchor="end" fill="#000">0.9</text>
<text x="1492" y="915.7" font-size="27" text-anchor="end" fill="#000">0.6</text>
<text x="1492" y="1009.8" font-size="27" text-anchor="end" fill="#000">0.3</text>
<text x="1492" y="1103.5" font-size="27" text-anchor="end" fill="#000">0.0</text>
<text x="1682.7" y="1153.8" font-size="27.5" text-anchor="middle" fill="#000">Wavelength (nm)</text>
<text x="1753.4" y="772.2" font-size="23.9" text-anchor="middle" font-weight="bold" fill="#F0203F">COTIC-4F</text>
</g>
</svg>
</body></html>
